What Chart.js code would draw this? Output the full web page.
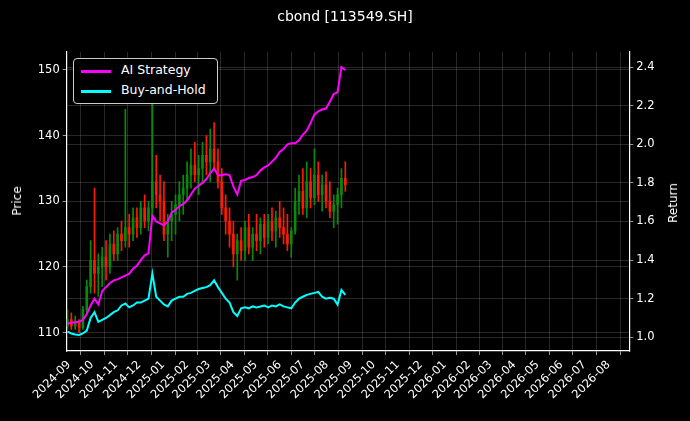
<!DOCTYPE html>
<html><head><meta charset="utf-8">
<script src="https://cdn.jsdelivr.net/npm/chart.js@4/dist/chart.umd.min.js"></script>
<style>
html,body{margin:0;padding:0;background:#000;}
#wrap{position:relative;width:690px;height:421px;background:#000;font-family:"DejaVu Sans",sans-serif;}
#title{position:absolute;top:8px;left:0;width:690px;text-align:center;color:#fff;font-size:14px;}
#legend{position:absolute;left:73px;top:58px;width:143px;height:44px;border:1px solid #ccc;border-radius:4px;background:#000;color:#fff;font-size:12.5px;}
.li{position:absolute;left:7px;height:14px;}
.sw{position:absolute;left:0;top:6px;width:30px;height:3px;}
.lt{position:absolute;left:40px;top:-2px;white-space:nowrap;}
.yt{position:absolute;color:#fff;font-size:12px;transform:translate(-50%,-50%) rotate(-90deg);white-space:nowrap;}
</style></head><body>
<div id="wrap">
<canvas id="c" width="690" height="421"></canvas>
<div id="title">cbond [113549.SH]</div>
<div class="yt" style="left:17px;top:201px">Price</div>
<div class="yt" style="left:673px;top:203px">Return</div>
<div id="legend">
 <div class="li" style="top:5px"><div class="sw" style="background:#ff00ff"></div><div class="lt">AI Strategy</div></div>
 <div class="li" style="top:25px"><div class="sw" style="background:#00ffff"></div><div class="lt">Buy-and-Hold</div></div>
</div>
</div>
<script>
const dates = ['2024-08-30','2024-09-04','2024-09-09','2024-09-14','2024-09-19','2024-09-24','2024-09-29','2024-10-04','2024-10-09','2024-10-14','2024-10-19','2024-10-24','2024-10-29','2024-11-03','2024-11-08','2024-11-13','2024-11-18','2024-11-23','2024-11-28','2024-12-03','2024-12-08','2024-12-13','2024-12-18','2024-12-23','2024-12-28','2025-01-02','2025-01-07','2025-01-12','2025-01-17','2025-01-22','2025-01-27','2025-02-01','2025-02-06','2025-02-11','2025-02-16','2025-02-21','2025-02-26','2025-03-03','2025-03-08','2025-03-13','2025-03-18','2025-03-23','2025-03-28','2025-04-02','2025-04-07','2025-04-12','2025-04-17','2025-04-22','2025-04-27','2025-05-02','2025-05-07','2025-05-12','2025-05-17','2025-05-22','2025-05-27','2025-06-01','2025-06-06','2025-06-11','2025-06-16','2025-06-21','2025-06-26','2025-07-01','2025-07-06','2025-07-11','2025-07-16','2025-07-21','2025-07-26','2025-07-31','2025-08-05','2025-08-10','2025-08-15','2025-08-20','2025-08-25'];
const openP  = [111,112,111,111.5,110.8,113.5,117,121,119,120,121.5,120,123.5,122,125,124,126,125,127.5,126,129,127,129,133,131,130,125,127,128,129.5,131,132,134,135.5,134,135,137,136,138,136,133,129,127,125,122,124,122.5,126,123,125,124,126.5,124.5,127,125.5,127.5,126,125,123.5,125.5,130,131.5,129,133,130.5,134,131,132.5,130,128.5,129.5,131,133.5];
const highP  = [113.5,113,112.5,112,114,118,124,132,122,123,124,125,125.5,126,127,144,128,129,129,130,131,130,146,137,134,133,128,130,131,133,134,136,138,139,137,139,140,141,142,138,135,131,129,127,125,126,127,128,126,128,127.5,128,128,129,128.5,130,129,128,126,132,134,135,136,135,138,136,134,134.5,133,131,132,135,136];
const lowP   = [110.5,110.5,110.5,110,110.5,113,116,116,115.5,117,118,119,121,121,122.5,123,123,124,124.5,125,126,125.5,128,129,127,124,121.5,124,125,127,128,130,132,133,131,133,134,133,135,132,128,125,123,120,118,121,121,122,121,122.5,122,123,123.5,124,123,124.5,123.5,122.5,121.5,125,128,128,127.5,129,129.5,130,128.5,129,127.5,126,126.5,129,131.5];
const closeP = [112,111,111.5,110.8,113.5,117,121,119,120,121.5,120,123.5,122,125,124,126,125,127.5,126,129,127,129,133,131,130,125,127,128,129.5,131,132,134,135.5,134,135,137,136,138,136,133,129,127,125,122,124,122.5,126,123,125,124,126.5,124.5,127,125.5,127.5,126,125,123.5,125.5,130,131.5,129,133,130.5,134,131,132.5,130,128.5,129.5,131,133.5,132.5];
const aiStrategy = [1.07,1.075,1.078,1.08,1.09,1.12,1.165,1.20,1.17,1.24,1.26,1.28,1.295,1.30,1.31,1.32,1.33,1.355,1.37,1.40,1.425,1.435,1.63,1.60,1.59,1.58,1.60,1.645,1.66,1.68,1.69,1.71,1.74,1.77,1.785,1.80,1.82,1.85,1.875,1.84,1.84,1.845,1.84,1.78,1.74,1.81,1.815,1.825,1.83,1.84,1.865,1.88,1.89,1.91,1.93,1.96,1.975,2.00,2.005,2.005,2.02,2.05,2.07,2.11,2.155,2.17,2.18,2.185,2.22,2.26,2.27,2.40,2.385];
const buyHold = [1.029,1.02,1.015,1.012,1.02,1.035,1.10,1.13,1.08,1.09,1.10,1.115,1.13,1.14,1.165,1.175,1.155,1.165,1.18,1.18,1.19,1.20,1.33,1.21,1.19,1.17,1.16,1.19,1.20,1.21,1.21,1.225,1.23,1.24,1.25,1.255,1.26,1.27,1.295,1.26,1.23,1.20,1.18,1.13,1.11,1.15,1.155,1.15,1.16,1.155,1.16,1.165,1.155,1.165,1.16,1.17,1.16,1.155,1.15,1.18,1.20,1.21,1.22,1.225,1.23,1.235,1.21,1.20,1.205,1.20,1.17,1.245,1.22];
const monthTicks = ['2024-09','2024-10','2024-11','2024-12','2025-01','2025-02','2025-03','2025-04','2025-05','2025-06','2025-07','2025-08','2025-09','2025-10','2025-11','2025-12','2026-01','2026-02','2026-03','2026-04','2026-05','2026-06','2026-07','2026-08'];
const priceTicks = [110,120,130,140,150];
const returnTicks = [1.0,1.2,1.4,1.6,1.8,2.0,2.2,2.4];

const T = s => Date.parse(s);
const xs = dates.map(T);
const up = closeP.map((c,i)=>c>=openP[i]);
const col = up.map(u=>u?'#0a8a0a':'#ff1a00');
const grid = {color:'rgba(150,150,150,0.45)', lineWidth:0.6, borderDash:[2,2], tickColor:'#fff', tickLength:4, tickBorderDash:[], drawTicks:true};
const font = {family:'DejaVu Sans', size:11.5};

new Chart(document.getElementById('c'), {
  data: {
    datasets: [
      {type:'bar', data: xs.map((x,i)=>({x, y:[lowP[i],highP[i]]})), backgroundColor: col, barThickness:1, yAxisID:'y', order:3, grouped:false},
      {type:'bar', data: xs.map((x,i)=>({x, y:[Math.min(openP[i],closeP[i]), Math.max(openP[i],closeP[i])]})), backgroundColor: col, barThickness:2, yAxisID:'y', order:2, grouped:false, minBarLength:1},
      {type:'line', label:'AI Strategy', data: xs.map((x,i)=>({x, y:aiStrategy[i]})), borderColor:'#ff00ff', borderWidth:2, pointRadius:0, yAxisID:'y2', order:1, tension:0},
      {type:'line', label:'Buy-and-Hold', data: xs.map((x,i)=>({x, y:buyHold[i]})), borderColor:'#00ffff', borderWidth:2, pointRadius:0, yAxisID:'y2', order:0, tension:0}
    ]
  },
  options: {
    responsive:false, animation:false,
    layout:{padding:{top:52, right:0, left:0, bottom:0}},
    plugins:{legend:{display:false}, tooltip:{enabled:false}},
    scales:{
      x:{type:'linear', min:T('2024-08-29'), max:T('2026-08-28'), offset:false,
         grid:grid, border:{color:'#fff', width:1.2},
         afterBuildTicks: a => { a.ticks = monthTicks.map(m=>({value:T(m+'-01')})); },
         afterFit: a => { a.height = 70; },
         ticks:{color:'#fff', font:font, minRotation:45, maxRotation:45, autoSkip:false,
           callback: v => { const d=new Date(v); return d.getUTCFullYear()+'-'+String(d.getUTCMonth()+1).padStart(2,'0'); }}},
      y:{position:'left', min:107.2, max:152.74, grid:grid, border:{color:'#fff', width:1.2},
         afterBuildTicks: a => { a.ticks = priceTicks.map(v=>({value:v})); },
         afterFit: a => { a.width = 66.7; },
         ticks:{color:'#fff', font:font}},
      y2:{position:'right', min:0.929, max:2.478, grid:grid, border:{color:'#fff', width:1.2},
         afterBuildTicks: a => { a.ticks = returnTicks.map(v=>({value:v})); },
         afterFit: a => { a.width = 60.7; },
         ticks:{color:'#fff', font:font, callback: v => v.toFixed(1)}}
    }
  }
});
</script>
</body></html>
